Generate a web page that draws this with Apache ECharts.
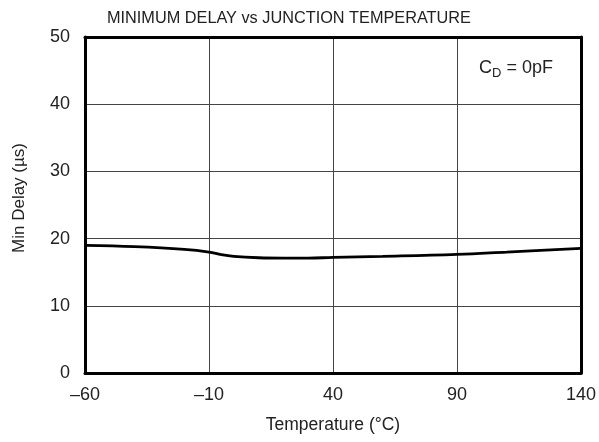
<!DOCTYPE html>
<html><head><meta charset="utf-8">
<script src="https://cdn.jsdelivr.net/npm/echarts@6/dist/echarts.min.js"></script>
<style>html,body{margin:0;padding:0;background:#fff}#c{width:599px;height:442px}</style>
</head><body><div id="c"></div>
<script>
var temps = [-60, -40, -20, -10, -5, 0, 10, 20, 30, 40, 60, 90, 110, 140];
var minDelay = [19.0, 18.8, 18.4, 18.0, 17.6, 17.35, 17.15, 17.1, 17.1, 17.2, 17.35, 17.65, 18.0, 18.55];
var xTicks = [-60, -10, 40, 90, 140];
var yTicks = [0, 10, 20, 30, 40, 50];

var font = 'Liberation Sans, Arial, sans-serif';
var chart = echarts.init(document.getElementById('c'));
chart.setOption({
  animation: false,
  title: [{
    text: 'MINIMUM DELAY vs JUNCTION TEMPERATURE',
    left: 102, top: 6,
    textStyle: {fontFamily: font, fontSize: 16.3, fontWeight: 'normal', color: '#222'}
  }, {
    text: '{a|C}{b|D}{a| = 0pF}',
    left: 474, top: 51,
    textStyle: {fontWeight: 'normal', rich: {
      a: {fontFamily: font, fontSize: 18, fontWeight: 'normal', color: '#222'},
      b: {fontFamily: font, fontSize: 13, fontWeight: 'normal', color: '#222', padding: [11, 0, 0, 0]}
    }}
  }],
  grid: {left: 85, right: 18, top: 37, bottom: 69, containLabel: false, outerBoundsMode: 'none'},
  xAxis: [{
    type: 'value', min: -60, max: 140, interval: 50,
    name: 'Temperature (\u00B0C)', nameLocation: 'middle', nameGap: 43,
    nameTextStyle: {fontFamily: font, fontSize: 17.5, color: '#222'},
    axisLine: {show: true, onZero: false, lineStyle: {color: '#000', width: 3}},
    axisTick: {show: false},
    axisLabel: {fontFamily: font, fontSize: 18, color: '#222', margin: 13,
      formatter: function (v) { return xTicks.indexOf(v) >= 0 ? String(v).replace('-', '\u2013') : ''; }},
    splitLine: {show: true, lineStyle: {color: '#444', width: 1}}
  }, {
    type: 'value', min: -60, max: 140, interval: 50, position: 'top',
    axisLine: {show: true, onZero: false, lineStyle: {color: '#000', width: 3}},
    axisTick: {show: false}, axisLabel: {show: false}, splitLine: {show: false}
  }],
  yAxis: [{
    type: 'value', min: 0, max: 50, interval: 10,
    name: 'Min Delay (\u00B5s)', nameLocation: 'middle', nameGap: 57,
    nameTextStyle: {fontFamily: font, fontSize: 17, color: '#222', padding: [0, 0, 0, 14]},
    axisLine: {show: true, onZero: false, lineStyle: {color: '#000', width: 3}},
    axisTick: {show: false},
    axisLabel: {fontFamily: font, fontSize: 18, color: '#222', margin: 15,
      formatter: function (v) { return yTicks.indexOf(v) >= 0 ? String(v) : ''; }},
    splitLine: {show: true, lineStyle: {color: '#444', width: 1}}
  }, {
    type: 'value', min: 0, max: 50, interval: 10, position: 'right',
    axisLine: {show: true, onZero: false, lineStyle: {color: '#000', width: 3}},
    axisTick: {show: false}, axisLabel: {show: false}, splitLine: {show: false}
  }],
  series: [{
    type: 'line', smooth: 0.4, symbol: 'none',
    data: temps.map(function (t, i) { return [t, minDelay[i]]; }),
    lineStyle: {color: '#000', width: 2.8}
  }]
});
</script></body></html>
